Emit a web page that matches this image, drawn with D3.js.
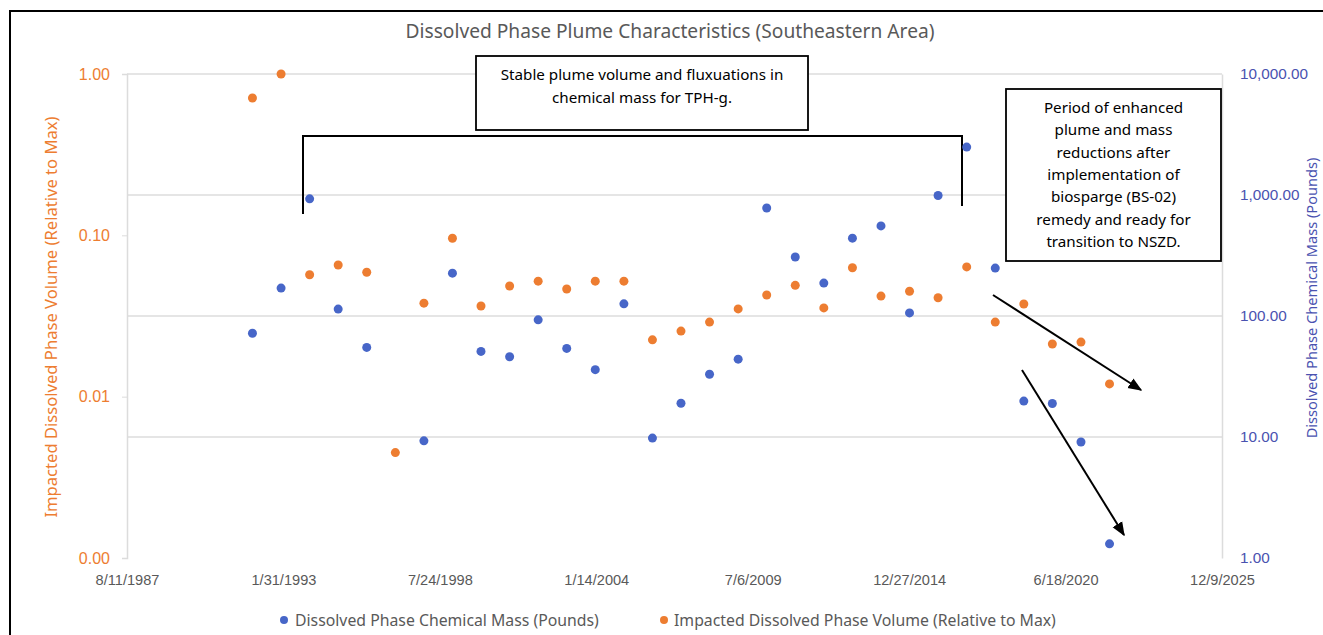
<html>
<head>
<script src="https://cdn.jsdelivr.net/npm/d3@7"></script>
<style>
  body { margin: 0; background: #fff; }
  svg { display: block; font-family: "Noto Sans", "Open Sans", sans-serif; }
</style>
</head>
<body>
<svg id="chart" width="1323" height="635"></svg>
<script>
	// sample dates (one per year) and the two series
	var sampleDates = ["1992-01-01","1993-01-01","1994-01-01","1995-01-01","1996-01-01","1997-01-01",
		"1998-01-01","1999-01-01","2000-01-01","2001-01-01","2002-01-01","2003-01-01","2004-01-01",
		"2005-01-01","2006-01-01","2007-01-01","2008-01-01","2009-01-01","2010-01-01","2011-01-01",
		"2012-01-01","2013-01-01","2014-01-01","2015-01-01","2016-01-01","2017-01-01","2018-01-01",
		"2019-01-01","2020-01-01","2021-01-01","2022-01-01"];

	// Dissolved Phase Chemical Mass (Pounds) - right axis
	var massLbs = [72, 170, 930, 114, 55, null, 9.3, 226, 51, 46, 93, 54, 36, 126, 9.8, 19, 33,
		44, 780, 307, 187, 440, 555, 106, 990, 2490, 249, 19.8, 18.9, 9.1, 1.31];

	// Impacted Dissolved Phase Volume (Relative to Max) - left axis
	var volumeRel = [0.71, 1.0, 0.057, 0.0655, 0.059, 0.0045, 0.038, 0.096, 0.0365, 0.0485, 0.052,
		0.0465, 0.052, 0.052, 0.0225, 0.0255, 0.029, 0.035, 0.0427, 0.049, 0.0355, 0.063, 0.042,
		0.045, 0.041, 0.0637, 0.029, 0.0375, 0.0212, 0.0218, 0.012];

	var leftTicks = [0.001, 0.01, 0.1, 1];
	var rightTicks = [1, 10, 100, 1000, 10000];
	var xTickDates = ["1987-08-11","1993-01-31","1998-07-24","2004-01-14","2009-07-06",
		"2014-12-27","2020-06-18","2025-12-09"];

	var titleText = "Dissolved Phase Plume Characteristics (Southeastern Area)";
	var massName = "Dissolved Phase Chemical Mass (Pounds)";
	var volName = "Impacted Dissolved Phase Volume (Relative to Max)";
	var note1 = ["Stable plume volume and fluxuations in", "chemical mass for TPH-g."];
	var note2 = ["Period of enhanced", "plume and mass", "reductions after", "implementation of",
		"biosparge (BS-02)", "remedy and ready for", "transition to NSZD."];

	var orange = "#ED7D31", blue = "#4766C8", axisBlue = "#4a52b0", grey = "#595959", grid = "#dcdcdc";

	var parse = d3.timeParse("%Y-%m-%d");
	var svg = d3.select("#chart");

	var x = d3.scaleTime()
		.domain([parse(xTickDates[0]), parse(xTickDates[xTickDates.length - 1])])
		.range([127, 1222]);
	var yL = d3.scaleLog().domain([0.001, 1]).range([558, 74]);
	var yR = d3.scaleLog().domain([1, 10000]).range([558, 74]);

	// outer frame
	svg.append("path")
		.attr("d", "M10,635 L10,11 L1323,11")
		.style("fill", "none").style("stroke", "#000").style("stroke-width", 2);

	// gridlines (right axis majors)
	svg.append("g").selectAll("line").data(rightTicks.slice(1)).enter().append("line")
		.attr("x1", 127).attr("x2", 1222)
		.attr("y1", function(d) { return yR(d); })
		.attr("y2", function(d) { return yR(d); })
		.style("stroke", grid).style("stroke-width", 1.5);

	// left axis
	var gl = svg.append("g").attr("transform", "translate(127,0)")
		.call(d3.axisLeft(yL).tickValues(leftTicks).tickFormat(d3.format(".2f")).tickSize(5).tickPadding(12));
	gl.select(".domain").style("stroke", grid).style("stroke-width", 1.5);
	gl.selectAll(".tick line").style("stroke", grid);
	gl.selectAll("text").style("fill", orange).style("font-size", "16px");

	// right axis
	var gr = svg.append("g").attr("transform", "translate(1222,0)")
		.call(d3.axisRight(yR).tickValues(rightTicks).tickFormat(d3.format(",.2f")).tickSize(0).tickPadding(18));
	gr.select(".domain").style("stroke", grid).style("stroke-width", 1.5);
	gr.selectAll("text").style("fill", axisBlue).style("font-size", "15.3px");

	// bottom axis (labels only)
	var gb = svg.append("g").attr("transform", "translate(0,558)")
		.call(d3.axisBottom(x).tickValues(xTickDates.map(parse))
			.tickFormat(d3.timeFormat("%-m/%-d/%Y")).tickSize(0).tickPadding(17));
	gb.select(".domain").remove();
	gb.selectAll("text").style("fill", grey).style("font-size", "14.6px");

	// title and axis titles
	svg.append("text").attr("x", 670).attr("y", 38).attr("text-anchor", "middle")
		.style("fill", grey).style("font-size", "19.2px").text(titleText);
	svg.append("text").attr("transform", "translate(57,317) rotate(-90)").attr("text-anchor", "middle")
		.style("fill", orange).style("font-size", "16.6px").text(volName);
	svg.append("text").attr("transform", "translate(1317,298) rotate(-90)").attr("text-anchor", "middle")
		.style("fill", axisBlue).style("font-size", "14.6px").text(massName);

	// annotations: bracket, boxes, arrows
	svg.append("defs").append("marker").attr("id", "head")
		.attr("viewBox", "0 0 10 10").attr("refX", 9).attr("refY", 5)
		.attr("markerWidth", 7).attr("markerHeight", 7).attr("orient", "auto")
		.append("path").attr("d", "M0,1 L10,5 L0,9 Z").style("fill", "#000");

	svg.append("path").attr("d", "M303,214 L303,136 L962,136 L962,206")
		.style("fill", "none").style("stroke", "#000").style("stroke-width", 2);

	svg.append("line").attr("x1", 993).attr("y1", 295).attr("x2", 1141).attr("y2", 390)
		.style("stroke", "#000").style("stroke-width", 2).attr("marker-end", "url(#head)");
	svg.append("line").attr("x1", 1022).attr("y1", 370).attr("x2", 1124).attr("y2", 535)
		.style("stroke", "#000").style("stroke-width", 2).attr("marker-end", "url(#head)");

	// data points
	var rows = sampleDates.map(function(d, i) {
		return { date: parse(d), mass: massLbs[i], vol: volumeRel[i] };
	});

	svg.append("g").selectAll("circle").data(rows.filter(function(d) { return d.vol != null; }))
		.enter().append("circle")
		.attr("cx", function(d) { return x(d.date); })
		.attr("cy", function(d) { return yL(d.vol); })
		.attr("r", 4.5).style("fill", orange);

	svg.append("g").selectAll("circle").data(rows.filter(function(d) { return d.mass != null; }))
		.enter().append("circle")
		.attr("cx", function(d) { return x(d.date); })
		.attr("cy", function(d) { return yR(d.mass); })
		.attr("r", 4.5).style("fill", blue);

	function textBox(x0, y0, w, h, lines, firstY, step, size) {
		var g = svg.append("g");
		g.append("rect").attr("x", x0).attr("y", y0).attr("width", w).attr("height", h)
			.style("fill", "#fff").style("stroke", "#000").style("stroke-width", 1.8);
		g.selectAll("text").data(lines).enter().append("text")
			.attr("x", x0 + w / 2).attr("y", function(d, i) { return firstY + i * step; })
			.attr("text-anchor", "middle").style("fill", "#000").style("font-size", size)
			.text(function(d) { return d; });
	}
	textBox(476, 56, 332, 74, note1, 80, 23, "15.2px");
	textBox(1006, 89, 215, 172, note2, 113, 22.3, "15.2px");

	// legend
	var leg = svg.append("g");
	leg.append("circle").attr("cx", 284).attr("cy", 620).attr("r", 4).style("fill", blue);
	leg.append("text").attr("x", 295).attr("y", 625.5).style("fill", grey).style("font-size", "15.8px").text(massName);
	leg.append("circle").attr("cx", 664).attr("cy", 620).attr("r", 4).style("fill", orange);
	leg.append("text").attr("x", 674).attr("y", 625.5).style("fill", grey).style("font-size", "15.8px").text(volName);
</script>
</body>
</html>
